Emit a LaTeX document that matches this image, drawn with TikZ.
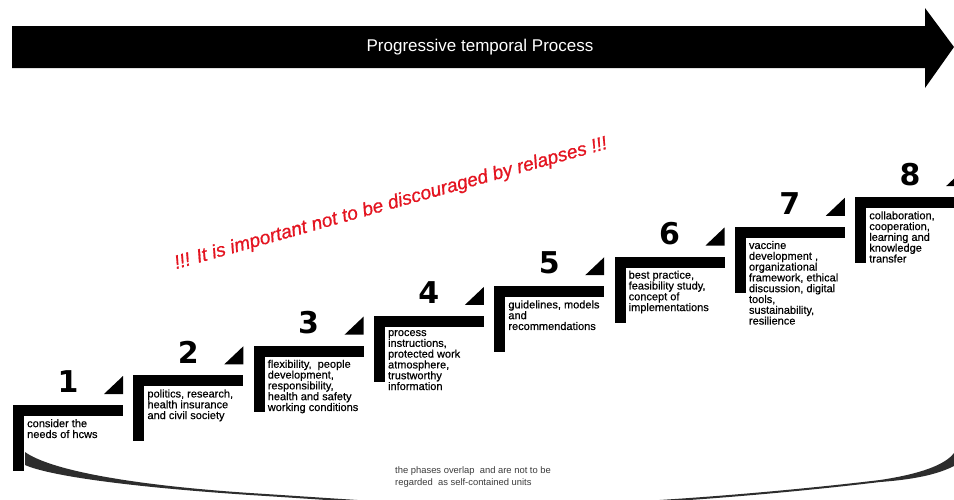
\documentclass[tikz,border=0pt]{standalone}
\usepackage{fontspec}
\setmainfont{Liberation Sans}
\newfontfamily\numfont{DejaVu Sans}
\newfontfamily\stepfont{Liberation Sans}[FakeBold=0.5]
\newfontfamily\warnfont{Liberation Sans}[FakeBold=0.8]
\definecolor{warnred}{RGB}{228,20,32}
\definecolor{notegray}{RGB}{60,60,60}
\definecolor{swoosh}{RGB}{45,45,45}
\begin{document}
\begin{tikzpicture}[x=1pt,y=-1pt,
  stepbar/.style={fill=black},
  stepnum/.style={font=\numfont\bfseries\fontsize{30}{30}\selectfont, inner sep=0},
  steptext/.style={anchor=north west, inner sep=0, align=left,
    font=\stepfont\fontsize{11}{10.8}\selectfont},
  headline/.style={text=white, font=\fontsize{17}{17}\selectfont, inner sep=0},
  warning/.style={text=warnred, font=\warnfont\itshape\fontsize{19}{19}\selectfont,
    inner sep=0, rotate=15.6},
  note/.style={anchor=north west, inner sep=0, align=left, text=notegray,
    font=\fontsize{9.4}{12.5}\selectfont},
]
\useasboundingbox (0,0) rectangle (954,499);
\clip (0,0) rectangle (954,499);
\fill[white] (0,0) rectangle (954,499);

% time arrow
\fill[black] (12,26) -- (925,26) -- (925,8) -- (954,47) -- (925,88) -- (925,68) -- (12,68) -- cycle;
\node[headline] (timeline) at (480,47) {Progressive temporal Process};

% swoosh underneath the staircase: thick ends, thin middle
\fill[swoosh]
  (25,452) .. controls (50,470) and (130,485) .. (250,493)
  .. controls (330,498) and (420,505) .. (490,506)
  .. controls (620,506) and (780,492) .. (880,480)
  .. controls (920,474) and (945,465) .. (954,453)
  -- (954,466) .. controls (940,473) and (920,479) .. (880,482)
  .. controls (780,494) and (620,508) .. (490,508)
  .. controls (420,507) and (330,500) .. (250,495)
  .. controls (130,487) and (50,476) .. (25,465) -- cycle;

% the eight steps
\foreach \i/\txt in {
  1/{consider the\\needs of hcws},
  2/{politics, research,\\health insurance\\and civil society},
  3/{flexibility,\ \ people\\development,\\responsibility,\\health and safety\\working conditions},
  4/{process\\instructions,\\protected work\\atmosphere,\\trustworthy\\information},
  5/{guidelines, models\\and\\recommendations},
  6/{best practice,\\feasibility study,\\concept of\\implementations},
  7/{vaccine\\development ,\\organizational\\framework, ethical\\discussion, digital\\tools,\\sustainability,\\resilience},
  8/{collaboration,\\cooperation,\\learning and\\knowledge\\transfer}}{
  \pgfmathsetmacro\L{13+120.3*(\i-1)}
  \pgfmathsetmacro\T{405-29.7*(\i-1)}
  \fill[stepbar] (\L,\T) rectangle ++(110,11);
  \fill[stepbar] (\L,\T) rectangle ++(11,66);
  \fill[stepbar] (\L+91,\T-11) -- (\L+110,\T-11) -- (\L+110,\T-29) -- cycle;
  \node[stepnum] (num\i) at (\L+55,\T-23) {\i};
  \node[steptext] (txt\i) at (\L+14,\T+14) {\txt};
}

\node[warning] (warn) at (391,204) {!!! It is important not to be discouraged by relapses !!!};

\node[note] (overlap) at (395,466) {the phases overlap\ \ and are not to be\\regarded\ \ as self-contained units};
\end{tikzpicture}
\end{document}
